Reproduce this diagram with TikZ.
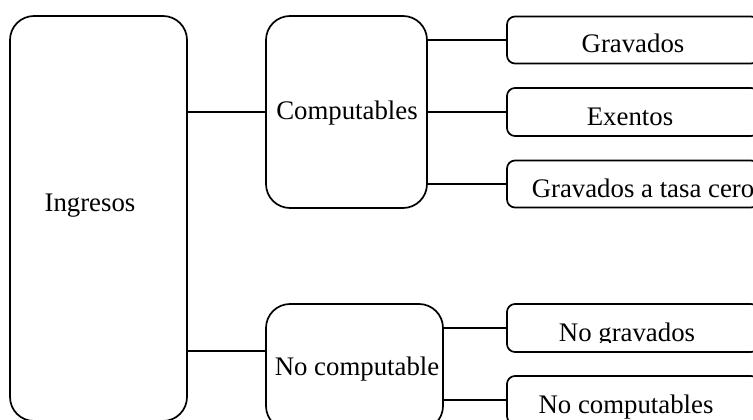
\documentclass[tikz,border=0pt]{standalone}
\usepackage{fontspec}
\setmainfont{Liberation Serif}
\tikzset{
  box/.style={draw=black, line width=1.7pt, inner sep=0pt, outer sep=0pt, fill=white},
  bigbox/.style={box, rounded corners=24pt},
  smallbox/.style={box, rounded corners=8pt},
  lbl/.style={anchor=base, inner sep=0pt, font=\fontsize{26.8}{30}\selectfont},
  conn/.style={line width=1.8pt}
}
\begin{document}
\begin{tikzpicture}[x=1pt,y=-1pt]
\useasboundingbox (0,0) rectangle (753,420);
\clip (0,0) rectangle (753,420);
% boxes
\node[bigbox, minimum width=177pt, minimum height=405pt] (ing) at (98.5,218.5) {};
\node[bigbox, minimum width=161pt, minimum height=192pt] (comp) at (346.5,112) {};
\node[bigbox, minimum width=177pt, minimum height=126pt] (nc) at (354.5,367) {};
\node[smallbox, minimum width=252pt, minimum height=47pt] (g1) at (633,40) {};
\node[smallbox, minimum width=252pt, minimum height=48pt] (g2) at (633,112) {};
\node[smallbox, minimum width=252pt, minimum height=47pt] (g3) at (633,184) {};
\node[smallbox, minimum width=252pt, minimum height=48pt] (n1) at (633,328) {};
\node[smallbox, minimum width=252pt, minimum height=48pt] (n2) at (633,400) {};
% connectors
\draw[conn] (ing.east |- comp.west) -- (comp.west);
\draw[conn] (ing.east |- 0,351) -- (nc.west |- 0,351);
\draw[conn] (comp.east |- g1.west) -- (g1.west);
\draw[conn] (comp.east |- g2.west) -- (g2.west);
\draw[conn] (comp.east |- g3.west) -- (g3.west);
\draw[conn] (nc.east |- n1.west) -- (n1.west);
\draw[conn] (nc.east |- n2.west) -- (n2.west);
% labels
\node[lbl] (tIng) at (90,211) {Ingresos};
\node[lbl] (tComp) at (347,120) {Computables};
\node[lbl] (tNc) at (357,375) {No computable};
\node[lbl] (tG1) at (633,53) {Gravados};
\node[lbl] (tG2) at (630,125) {Exentos};
\node[lbl] (tG3) at (643,197) {Gravados a tasa cero};
\begin{scope}
\clip (507,300) rectangle (760,342.5);
\node[lbl] (tN1) at (627,341) {No gravados};
\end{scope}
\node[lbl] (tN2) at (626,413) {No computables};
\end{tikzpicture}
\end{document}
